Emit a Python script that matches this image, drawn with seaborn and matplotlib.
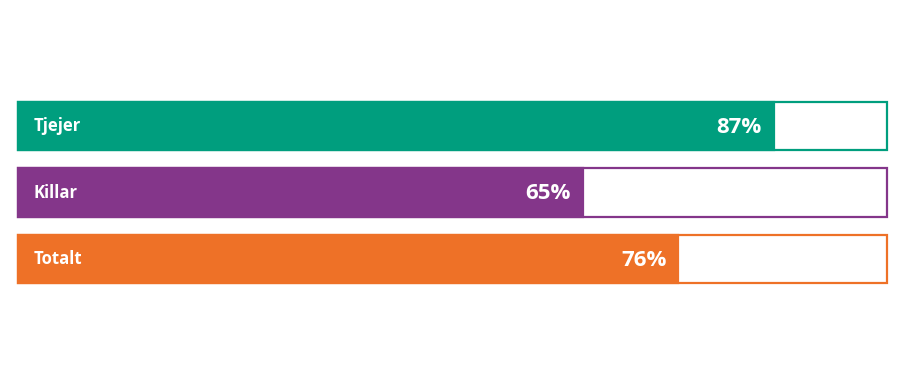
import matplotlib
matplotlib.use("Agg")
import matplotlib.pyplot as plt
import seaborn as sns
import pandas as pd

categories = ["Tjejer", "Killar", "Totalt"]
values = [87, 65, 76]
value_labels = ["87%", "65%", "76%"]
colors = ["#009E7E", "#84368A", "#EE7127"]

sns.set_theme(style="white")
plt.rcParams["font.family"] = ["Open Sans", "DejaVu Sans"]

df = pd.DataFrame({"cat": categories, "val": values, "full": [100] * len(values)})

W, H = 901, 377
fig = plt.figure(figsize=(W / 100, H / 100), dpi=100)
left, right, top, bottom = 18, 887, 102, 283
ax = fig.add_axes([left / W, 1 - bottom / H, (right - left) / W, (bottom - top) / H])

h = 0.731
# outline (full 100%) bars
sns.barplot(data=df, x="full", y="cat", hue="cat", palette=colors, orient="h",
            width=h, legend=False, ax=ax, fill=False, linewidth=1.6)
for patch, c in zip(ax.patches, colors):
    patch.set_facecolor("white")
    patch.set_edgecolor(c)
    patch.set_fill(True)
    patch.set_linewidth(1.6)
    patch.set_clip_on(False)
n_out = len(ax.patches)
sns.barplot(data=df, x="val", y="cat", hue="cat", palette=colors, orient="h",
            width=h, legend=False, ax=ax, saturation=1)
for patch, c in zip(ax.patches[n_out:], colors):
    patch.set_facecolor(c)
    patch.set_edgecolor(c)
    patch.set_linewidth(1.6)
    patch.set_clip_on(False)

ax.set_xlim(0, 100)
ax.set_ylim(2 + h / 2, -h / 2)
ax.axis("off")

for i, (cat, v, lab) in enumerate(zip(categories, values, value_labels)):
    ax.text(1.75, i, cat, color="white", fontsize=12, fontweight="bold",
            va="center", ha="left")
    ax.text(v - 1.4, i + 0.02, lab, color="white", fontsize=16, fontweight="bold",
            va="center", ha="right")

fig.savefig("out.png", dpi=100, facecolor="white")
